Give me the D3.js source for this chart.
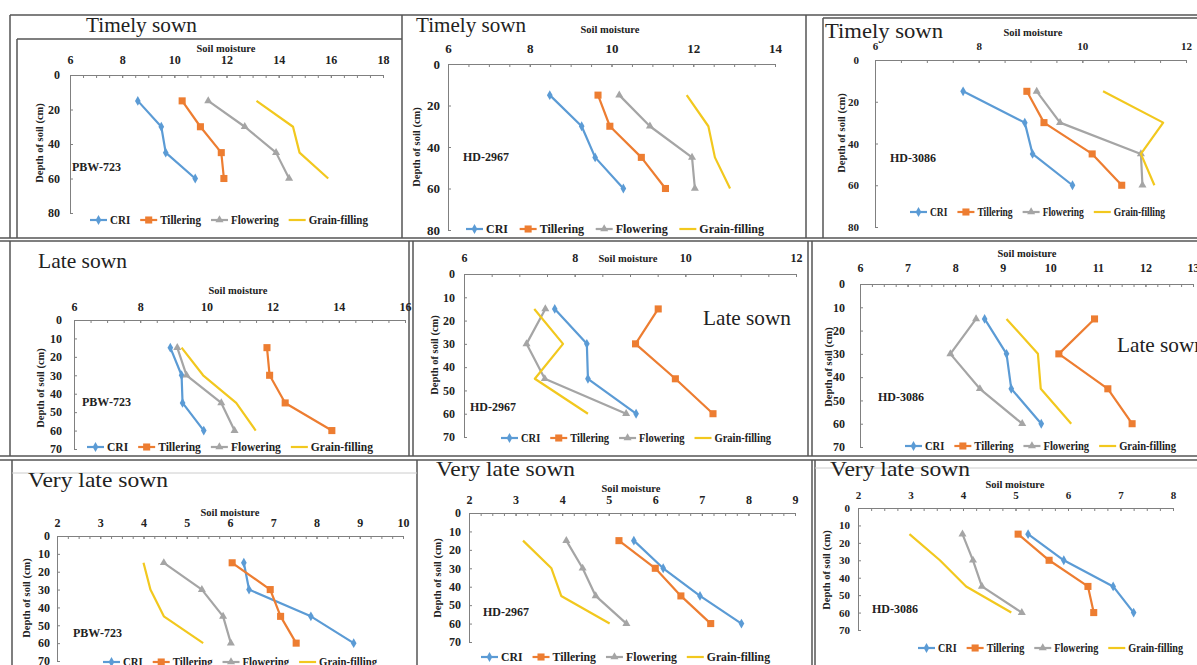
<!DOCTYPE html>
<meta charset="utf-8">
<style>
    body { margin: 0; background: #fff; }
    text { font-family: "Liberation Serif", "Times New Roman", serif; }
    .frame line { stroke: #555; stroke-width: 1.5; }
    .axis path, .axis line { stroke: #808080; stroke-width: 1; }
    .axis text { font-weight: bold; fill: #222; }
    .lbl { font-weight: bold; fill: #222; }
    .title { fill: #222; }
</style>
<body>
<script src="https://cdn.jsdelivr.net/npm/d3@7"></script>
<script>

    var width = 1197,
        height = 665;

    var depths = [15, 30, 45, 60];
    var stages = ["CRI", "Tillering", "Flowering", "Grain-filling"];
    var colors = ["#5b9bd5", "#ed7d31", "#a5a5a5", "#f2c81e"];

    // soil moisture, one row per stage (CRI, Tillering, Flowering, Grain-filling), one column per depth
    var timelyPBW723 = [[8.6, 9.5, 9.67, 10.8], [10.3, 11.0, 11.8, 11.9], [11.3, 12.7, 13.9, 14.4], [13.15, 14.55, 14.8, 15.9]];
    var timelyHD2967 = [[8.49, 9.27, 9.6, 10.29], [9.67, 9.96, 10.73, 11.32], [10.19, 10.94, 11.97, 12.04], [11.84, 12.37, 12.53, 12.9]];
    var timelyHD3086 = [[7.7, 8.89, 9.04, 9.81], [8.93, 9.26, 10.19, 10.76], [9.12, 9.57, 11.13, 11.16], [10.4, 11.56, 11.13, 11.39]];
    var latePBW723 = [[8.91, 9.25, 9.28, 9.92], [11.83, 11.91, 12.38, 13.79], [9.12, 9.4, 10.45, 10.85], [9.25, 9.9, 10.9, 11.49]];
    var lateHD2967 = [[7.64, 8.22, 8.24, 9.11], [9.51, 9.1, 9.82, 10.5], [7.47, 7.13, 7.46, 8.93], [7.27, 7.79, 7.28, 8.24]];
    var lateHD3086 = [[8.62, 9.08, 9.18, 9.81], [10.93, 10.18, 11.21, 11.72], [8.44, 7.9, 8.52, 9.41], [9.08, 9.74, 9.8, 10.44]];
    var vlatePBW723 = [[6.32, 6.44, 7.87, 8.86], [6.05, 6.93, 7.17, 7.53], [4.47, 5.35, 5.84, 6.02], [4.0, 4.16, 4.47, 5.38]];
    var vlateHD2967 = [[5.54, 6.17, 6.96, 7.85], [5.22, 6.0, 6.55, 7.19], [4.09, 4.44, 4.72, 5.38], [3.16, 3.77, 3.98, 5.02]];
    var vlateHD3086 = [[5.24, 5.92, 6.86, 7.25], [5.05, 5.64, 6.38, 6.49], [3.99, 4.19, 4.36, 5.12], [2.98, 3.56, 4.06, 4.92]];

    // tick labels
    var xTicksT1 = [6, 8, 10, 12, 14, 16, 18];
    var xTicksT2 = [6, 8, 10, 12, 14];
    var xTicksT3 = [6, 8, 10, 12];
    var xTicksL1 = [6, 8, 10, 12, 14, 16];
    var xTicksL2 = [6, 8, 10, 12];
    var xTicksL3 = [6, 7, 8, 9, 10, 11, 12, 13];
    var xTicksV1 = [2, 3, 4, 5, 6, 7, 8, 9, 10];
    var xTicksV2 = [2, 3, 4, 5, 6, 7, 8, 9];
    var xTicksV3 = [2, 3, 4, 5, 6, 7, 8];
    var yTicks80 = [0, 20, 40, 60, 80];
    var yTicks70 = [0, 10, 20, 30, 40, 50, 60, 70];

    // where each little chart sits in the collage
    var panels = [
        {title: "Timely sown", variety: "PBW-723", data: timelyPBW723, xt: xTicksT1, yt: yTicks80,
            x0: 70, x1: 383, y0: 75, y1: 213, tickY: 60, fs: 12, ylGap: 10, sm: [226, 48], yl: [39, 143], vl: [72, 167], leg: [90, 368, 220], tt: [86, 32, 111]},
        {title: "Timely sown", variety: "HD-2967", data: timelyHD2967, xt: xTicksT2, yt: yTicks80,
            x0: 448, x1: 775, y0: 64, y1: 230, tickY: 48, fs: 13, ylGap: 8, sm: [610, 29], yl: [416, 147], vl: [463, 157], leg: [466, 764, 229], tt: [416, 32, 110]},
        {title: "Timely sown", variety: "HD-3086", data: timelyHD3086, xt: xTicksT3, yt: yTicks80,
            x0: 875, x1: 1186, y0: 60, y1: 227, tickY: 46, fs: 11, ylGap: 16, sm: [1033, 32], yl: [841, 133], vl: [890, 158], leg: [910, 1165, 212], tt: [825, 38, 118]},
        {title: "Late sown", variety: "PBW-723", data: latePBW723, xt: xTicksL1, yt: yTicks70,
            x0: 74, x1: 405, y0: 320, y1: 449, tickY: 307, fs: 12, ylGap: 12, sm: [238, 290], yl: [40, 388], vl: [82, 402], leg: [87, 373, 447], tt: [38, 268, 89]},
        {title: "Late sown", variety: "HD-2967", data: lateHD2967, xt: xTicksL2, yt: yTicks70,
            x0: 464, x1: 796, y0: 274, y1: 437, tickY: 258, fs: 12, ylGap: 9, sm: [628, 258], yl: [434, 355], vl: [470, 407], leg: [501, 771, 438], tt: [703, 325, 88]},
        {title: "Late sown", variety: "HD-3086", data: lateHD3086, xt: xTicksL3, yt: yTicks70,
            x0: 860, x1: 1193, y0: 284, y1: 447, tickY: 268, fs: 12, ylGap: 15, sm: [1027, 253], yl: [828, 367], vl: [878, 397], leg: [905, 1176, 446], tt: [1117, 352, 88]},
        {title: "Very late sown", variety: "PBW-723", data: vlatePBW723, xt: xTicksV1, yt: yTicks70,
            x0: 57, x1: 403, y0: 536, y1: 661, tickY: 523, fs: 12, ylGap: 7, sm: [230, 512], yl: [26, 598], vl: [73, 633], leg: [103, 377, 662], tt: [28, 487, 140]},
        {title: "Very late sown", variety: "HD-2967", data: vlateHD2967, xt: xTicksV2, yt: yTicks70,
            x0: 469, x1: 795, y0: 513, y1: 642, tickY: 500, fs: 12, ylGap: 8, sm: [631, 488], yl: [437, 578], vl: [483, 612], leg: [481, 770, 657], tt: [436, 476, 139]},
        {title: "Very late sown", variety: "HD-3086", data: vlateHD3086, xt: xTicksV3, yt: yTicks70,
            x0: 858, x1: 1173, y0: 508, y1: 630, tickY: 495, fs: 11, ylGap: 8, sm: [1015, 484], yl: [826, 570], vl: [872, 609], leg: [918, 1183, 648], tt: [830, 476, 140]}
    ];

    // borders of the pasted screenshots
    var frameLines = [
        [10, 15, 1197, 15], [10, 15, 10, 238], [17, 39, 402, 39], [17, 39, 17, 238],
        [402, 15, 402, 238], [806, 15, 806, 238], [823, 18, 1197, 18], [823, 18, 823, 238],
        [0, 238, 1197, 238], [0, 241, 1197, 241],
        [10, 241, 10, 456], [409, 241, 409, 456], [413, 241, 413, 456], [808, 241, 808, 456], [812, 241, 812, 456],
        [0, 456, 1197, 456], [0, 460, 1197, 460],
        [12, 460, 12, 665], [417, 460, 417, 665], [812, 460, 812, 665], [815, 460, 815, 665]
    ];

    var svg = d3.select("body").append("svg")
        .attr("width", width)
        .attr("height", height);

    svg.append("rect").attr("width", width).attr("height", height).attr("fill", "#fff");

    svg.append("g").attr("class", "frame")
        .selectAll("line")
        .data(frameLines)
        .enter().append("line")
        .attr("x1", function(d) { return d[0]; })
        .attr("y1", function(d) { return d[1]; })
        .attr("x2", function(d) { return d[2]; })
        .attr("y2", function(d) { return d[3]; });

    // faint light rules
    svg.append("line").attr("x1", 12).attr("x2", 417).attr("y1", 473).attr("y2", 473).attr("stroke", "#ccc");
    svg.append("line").attr("x1", 815).attr("x2", 1197).attr("y1", 468).attr("y2", 468).attr("stroke", "#ccc");

    var symbols = [d3.symbolDiamond, d3.symbolSquare, d3.symbolTriangle, null];
    var symSize = [28, 50, 28, 0];
    var sampleLen = 17;

    panels.forEach(function(p) {
        var xMax = p.xt[p.xt.length - 1];
        var x = d3.scaleLinear().domain([p.xt[0], xMax]).range([p.x0, p.x1]);
        var y = d3.scaleLinear().domain([0, p.yt[p.yt.length - 1]]).range([p.y0, p.y1]);
        var g = svg.append("g");

        // title
        g.append("text").attr("class", "title")
            .attr("x", p.tt[0]).attr("y", p.tt[1])
            .attr("font-size", 22)
            .attr("textLength", p.tt[2])
            .attr("lengthAdjust", "spacingAndGlyphs")
            .text(p.title);

        // minor ticks on the top axis
        var step = p.xt[1] - p.xt[0];
        var minor = d3.range(p.xt[0], xMax + 1e-9, step / 4);
        g.append("g").attr("class", "axis")
            .attr("transform", "translate(0," + p.y0 + ")")
            .call(d3.axisTop(x).tickValues(minor).tickSizeInner(-3).tickSizeOuter(0).tickFormat(""));

        var pad = p.y0 - p.tickY - 0.35 * p.fs;
        g.append("g").attr("class", "axis")
            .attr("transform", "translate(0," + p.y0 + ")")
            .call(d3.axisTop(x).tickValues(p.xt).tickSizeInner(-3).tickSizeOuter(0).tickPadding(pad).tickFormat(d3.format("d")))
            .attr("font-family", null)
            .attr("font-size", p.fs);

        g.append("g").attr("class", "axis")
            .attr("transform", "translate(" + p.x0 + ",0)")
            .call(d3.axisLeft(y).tickValues(p.yt).tickSizeInner(-3).tickSizeOuter(0).tickPadding(p.ylGap))
            .attr("font-family", null)
            .attr("font-size", p.fs);

        g.append("text").attr("class", "lbl")
            .attr("x", p.sm[0]).attr("y", p.sm[1]).attr("dy", "0.35em")
            .attr("text-anchor", "middle").attr("font-size", 10.5)
            .text("Soil moisture");

        g.append("text").attr("class", "lbl")
            .attr("transform", "translate(" + p.yl[0] + "," + p.yl[1] + ") rotate(-90)")
            .attr("dy", "0.35em")
            .attr("text-anchor", "middle").attr("font-size", 10.5)
            .text("Depth of soil (cm)");

        g.append("text").attr("class", "lbl")
            .attr("x", p.vl[0]).attr("y", p.vl[1]).attr("dy", "0.35em")
            .attr("font-size", 12)
            .text(p.variety);

        // series
        var line = d3.line()
            .x(function(d) { return x(d[0]); })
            .y(function(d) { return y(d[1]); });

        p.data.forEach(function(vals, i) {
            var pts = vals.map(function(v, j) { return [v, depths[j]]; });
            g.append("path")
                .attr("d", line(pts))
                .attr("fill", "none")
                .attr("stroke", colors[i])
                .attr("stroke-width", 2.2)
                .attr("stroke-linejoin", "round");
            if (symbols[i]) {
                g.selectAll(null)
                    .data(pts)
                    .enter().append("path")
                    .attr("transform", function(d) { return "translate(" + x(d[0]) + "," + y(d[1]) + ")"; })
                    .attr("d", d3.symbol().type(symbols[i]).size(symSize[i]))
                    .attr("fill", colors[i]);
            }
        });

        // legend, spread between its start and end; text is squeezed sideways if it does not fit
        var lg = g.append("g");
        var items = stages.map(function(s, i) {
            var it = lg.append("g");
            it.append("line").attr("x1", 0).attr("x2", sampleLen)
                .attr("stroke", colors[i]).attr("stroke-width", 2.2);
            if (symbols[i]) {
                it.append("path").attr("transform", "translate(" + sampleLen / 2 + ",0)")
                    .attr("d", d3.symbol().type(symbols[i]).size(symSize[i]))
                    .attr("fill", colors[i]);
            }
            var t = it.append("text").attr("class", "lbl")
                .attr("x", sampleLen + 3).attr("dy", "0.35em").attr("font-size", 12)
                .text(s);
            return {g: it, t: t, w: t.node().getComputedTextLength()};
        });
        var span = p.leg[1] - p.leg[0];
        var textTotal = d3.sum(items, function(d) { return d.w; });
        var room = span - 4 * (sampleLen + 3) - 3 * 10;
        var k = Math.min(1, room / textTotal);
        items.forEach(function(d) {
            if (k < 1) {
                d.w = d.w * k;
                d.t.attr("textLength", d.w).attr("lengthAdjust", "spacingAndGlyphs");
            }
            d.w = sampleLen + 3 + d.w;
        });
        var gap = (span - d3.sum(items, function(d) { return d.w; })) / 3;
        var cx = p.leg[0];
        items.forEach(function(d) {
            d.g.attr("transform", "translate(" + cx + "," + p.leg[2] + ")");
            cx += d.w + gap;
        });
    });

</script>
